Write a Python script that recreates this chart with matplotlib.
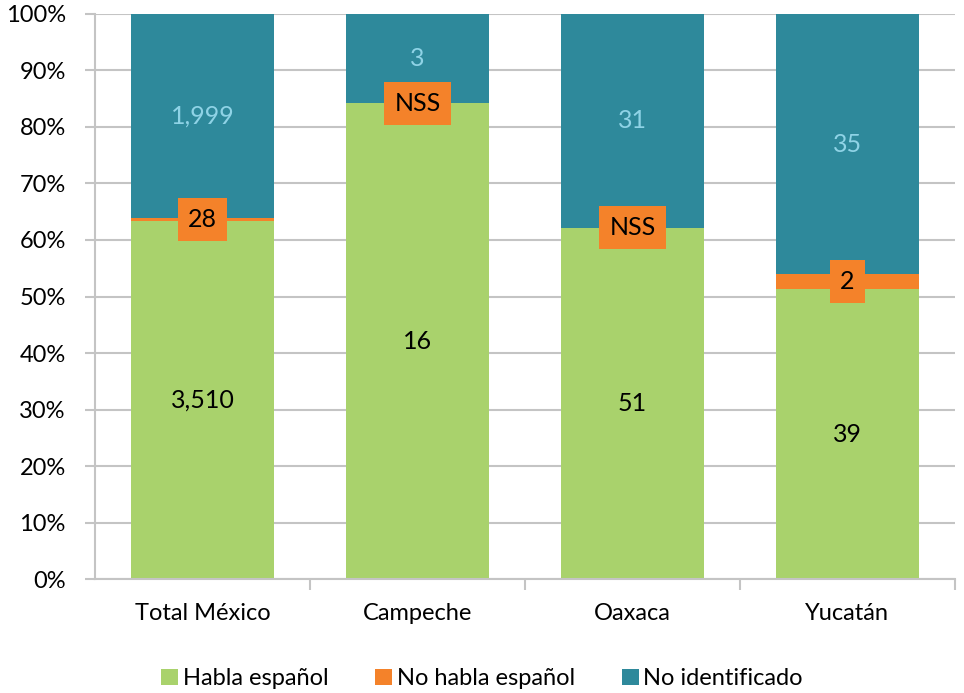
"""Stacked 100% bar chart: Spanish-speaking status by region."""

import matplotlib

matplotlib.use("Agg")
import matplotlib.pyplot as plt
import numpy as np

plt.rcParams["font.family"] = ["Lato", "DejaVu Sans"]

regions = ["Total México", "Campeche", "Oaxaca", "Yucatán"]
series = ["Habla español", "No habla español", "No identificado"]
habla = [3510, 16, 51, 39]
no_habla = [28, 0, 0, 2]
no_ident = [1999, 3, 31, 35]
no_habla_labels = ["28", "NSS", "NSS", "2"]

GREEN = "#A9D26C"
ORANGE = "#F4822A"
TEAL = "#2E899B"
GRID = "#C4C4C4"


def main() -> None:
    counts = np.array([habla, no_habla, no_ident], dtype=float)
    shares = counts / counts.sum(axis=0) * 100
    x = np.arange(len(regions))

    fig = plt.figure(figsize=(9.64, 6.93), dpi=100)
    ax = fig.add_axes([0.0985, 0.1645, 0.892, 0.8153])

    bottom = np.zeros(len(regions))
    for values, color, name in zip(shares, [GREEN, ORANGE, TEAL], series):
        ax.bar(x, values, 0.665, bottom=bottom, color=color, label=name,
               zorder=2)
        bottom = bottom + values

    mids = np.cumsum(shares, axis=0) - shares / 2
    for i in range(len(regions)):
        ax.text(x[i], mids[0, i], f"{habla[i]:,}", ha="center", va="center",
                fontsize=18, color="black", zorder=4)
        ax.text(x[i], mids[2, i], f"{no_ident[i]:,}", ha="center",
                va="center", fontsize=18, color="#8FD3E6", zorder=4)
        ax.text(x[i], mids[1, i], no_habla_labels[i], ha="center",
                va="center", fontsize=18, color="black", zorder=4,
                bbox=dict(boxstyle="square,pad=0.4", fc=ORANGE, ec="none"))

    ax.set_xlim(-0.5, len(regions) - 0.5)
    ax.set_ylim(0, 100)
    ax.set_yticks(np.arange(0, 101, 10))
    ax.set_yticklabels([f"{v}%" for v in range(0, 101, 10)])
    ax.yaxis.grid(True, color=GRID, linewidth=1.5, zorder=0)
    ax.set_xticks(x)
    ax.set_xticklabels(regions)
    ax.set_xticks(np.arange(0.5, len(regions)), minor=True)
    ax.tick_params(axis="x", which="major", length=0, pad=17, labelsize=17)
    ax.tick_params(axis="x", which="minor", length=8, color=GRID, width=1.5)
    ax.tick_params(axis="y", length=7, color=GRID, width=1.5, labelsize=17,
                   pad=14)
    for side in ["top", "right"]:
        ax.spines[side].set_visible(False)
    for side in ["left", "bottom"]:
        ax.spines[side].set_color(GRID)
        ax.spines[side].set_linewidth(1.5)

    fig.legend(loc="lower center", bbox_to_anchor=(0.5, -0.025), ncol=3,
               frameon=False, fontsize=17, handlelength=0.7,
               handleheight=0.7, handletextpad=0.2, columnspacing=2.0)
    fig.savefig("out.png", dpi=100)
    plt.close(fig)


if __name__ == "__main__":
    main()
